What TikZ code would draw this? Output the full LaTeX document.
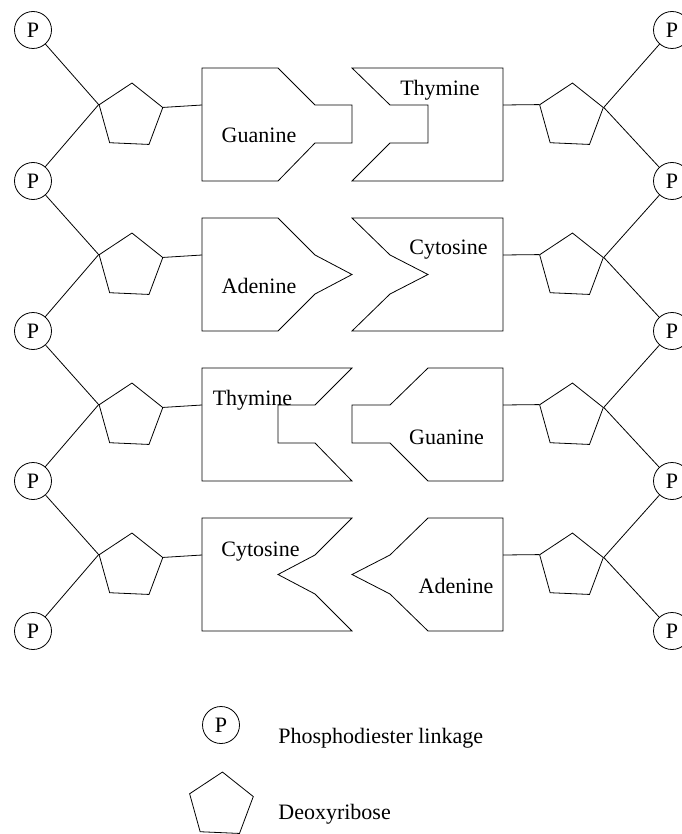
\documentclass[tikz,border=0pt]{standalone}
\usepackage{fontspec}
\setmainfont{Liberation Serif}
\usetikzlibrary{shapes.geometric}

\begin{document}
\begin{tikzpicture}[x=1pt, y=-1pt, line width=0.8pt,
    phos/.style={draw, circle, minimum size=37pt, inner sep=0pt, font=\fontsize{22}{26}\selectfont},
    sugar/.style={draw, regular polygon, regular polygon sides=5, minimum size=67pt, inner sep=0pt, rotate=-2.5},
    basetext/.style={inner sep=0pt, anchor=base, font=\fontsize{22}{26}\selectfont}]

    \useasboundingbox (0,0) rectangle (681,834);

    % Phosphates
    \foreach \i/\y in {1/30, 2/181, 3/331, 4/481, 5/631} {
        \node[phos] (pl\i) at (33,\y) {P};
        \node[phos] (pr\i) at (672,\y) {P};
    }

    % Sugars
    \foreach \i/\y in {1/116.5, 2/266.5, 3/416.5, 4/566.5} {
        \node[sugar] (sl\i) at (130.5,\y) {};
        \node[sugar] (sr\i) at (571,\y) {};
    }

    % Backbone
    \foreach \i [count=\j from 2] in {1,...,4} {
        \draw (pl\i) -- (sl\i.corner 2) -- (pl\j);
        \draw (pr\i) -- (sr\i.corner 5) -- (pr\j);
    }

    % Sugar to base
    \foreach \i/\y in {1/105, 2/255, 3/405, 4/555} {
        \coordinate (bl\i) at (202,\y);
        \coordinate (br\i) at (503,\y);
        \draw (sl\i.corner 5) -- (bl\i);
        \draw (br\i) -- (sr\i.corner 2);
    }

    % Row 1: Guanine - Thymine
    \draw (202,68) -- (278,68) -- (315,105) -- (352,105) -- (352,143) -- (315,143) -- (278,181) -- (202,181) -- cycle;
    \draw (352,68) -- (503,68) -- (503,181) -- (352,181) -- (390,143) -- (428,143) -- (428,105) -- (390,105) -- cycle;
    \node[basetext] (g1) at (259,143) {Guanine};
    \node[basetext] (t1) at (440,95.5) {Thymine};

    % Row 2: Adenine - Cytosine
    \draw (202,218) -- (278,218) -- (315,255) -- (352,274.5) -- (315,294) -- (278,331) -- (202,331) -- cycle;
    \draw (352,218) -- (503,218) -- (503,331) -- (352,331) -- (390,294) -- (428,274.5) -- (390,255) -- cycle;
    \node[basetext] (a2) at (259,293) {Adenine};
    \node[basetext] (c2) at (448.5,254.5) {Cytosine};

    % Row 3: Thymine - Guanine
    \draw (202,368) -- (352,368) -- (315,405) -- (278,405) -- (278,443) -- (315,443) -- (352,481) -- (202,481) -- cycle;
    \draw (428,368) -- (503,368) -- (503,481) -- (428,481) -- (390,443) -- (352,443) -- (352,405) -- (390,405) -- cycle;
    \node[basetext] (t3) at (252.5,405) {Thymine};
    \node[basetext] (g3) at (446.5,444.5) {Guanine};

    % Row 4: Cytosine - Adenine
    \draw (202,518) -- (352,518) -- (315,555) -- (278,574.5) -- (315,594) -- (352,631) -- (202,631) -- cycle;
    \draw (428,518) -- (503,518) -- (503,631) -- (428,631) -- (390,594) -- (352,574.5) -- (390,555) -- cycle;
    \node[basetext] (c4) at (260.5,556) {Cytosine};
    \node[basetext] (a4) at (456,593.5) {Adenine};

    % Legend
    \node[phos] (legphos) at (221,725) {P};
    \node[basetext, anchor=base west] (legphostext) at (278,743.5) {Phosphodiester linkage};
    \node[sugar] (legsugar) at (221,805.5) {};
    \node[basetext, anchor=base west] (legsugartext) at (278,819.5) {Deoxyribose};

\end{tikzpicture}
\end{document}
